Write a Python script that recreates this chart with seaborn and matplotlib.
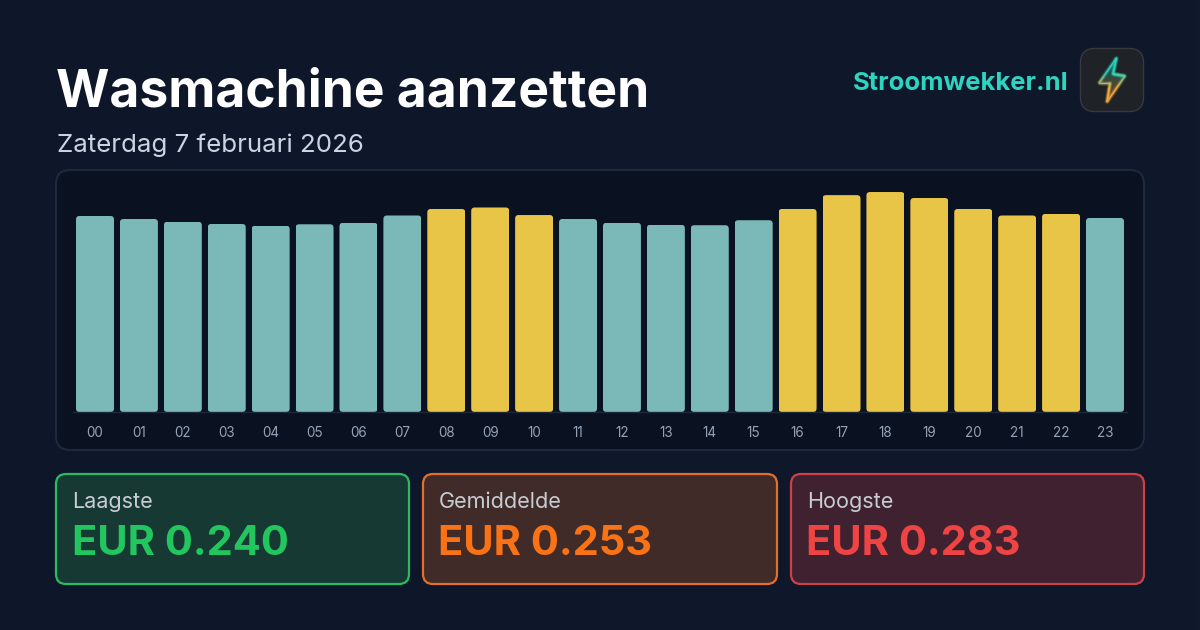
import matplotlib
matplotlib.use("Agg")
import matplotlib.pyplot as plt
import numpy as np
import pandas as pd
import seaborn as sns
from matplotlib.collections import LineCollection
from matplotlib.patches import FancyBboxPatch, Polygon
from matplotlib.colors import LinearSegmentedColormap
from matplotlib.transforms import IdentityTransform

# data
uren = ["00", "01", "02", "03", "04", "05", "06", "07", "08", "09", "10", "11",
        "12", "13", "14", "15", "16", "17", "18", "19", "20", "21", "22", "23"]
prijzen = [0.2522, 0.2483, 0.2447, 0.2419, 0.2397, 0.2415, 0.2434, 0.2528,
           0.2612, 0.2631, 0.2534, 0.2483, 0.2434, 0.2409, 0.2403, 0.2467,
           0.2612, 0.2790, 0.2830, 0.2753, 0.2612, 0.2528, 0.2550, 0.2496]
niveau = ["laag", "laag", "laag", "laag", "laag", "laag", "laag", "laag",
          "hoog", "hoog", "hoog", "laag", "laag", "laag", "laag", "laag",
          "hoog", "hoog", "hoog", "hoog", "hoog", "hoog", "hoog", "laag"]
kaart_labels = ["Laagste", "Gemiddelde", "Hoogste"]
kaart_waarden = ["EUR 0.240", "EUR 0.253", "EUR 0.283"]

sns.set_theme(style="white")
plt.rcParams["font.family"] = ["Inter", "DejaVu Sans"]

df = pd.DataFrame({"uur": uren, "prijs": prijzen, "niveau": niveau})

fig = plt.figure(figsize=(12, 6.3), dpi=100, facecolor="#0f172a")


def px(size):
    return size * 0.72


# background layer in pixel coordinates
bg = fig.add_axes([0, 0, 1, 1])
bg.axis("off")
verloop = np.linspace(0, 1, 256).reshape(1, -1)
bg.imshow(verloop, extent=(0, 1200, 630, 0), aspect="auto", zorder=0,
          cmap=LinearSegmentedColormap.from_list("bg", ["#0e172a", "#10182a"]))


def kader(x0, y0, x1, y1, r, fill, edge, lw):
    p = FancyBboxPatch((x0 + r, y0 + r), x1 - x0 - 2 * r, y1 - y0 - 2 * r,
                       boxstyle=f"round,pad={r},rounding_size={r}",
                       facecolor=fill, edgecolor=edge, linewidth=lw, zorder=1)
    bg.add_patch(p)
    return p


# header
bg.text(56, 93, "Wasmachine aanzetten", color="white", fontsize=px(51.5),
        fontweight="bold", va="center", ha="left")
bg.text(57, 145, "Zaterdag 7 februari 2026", color="#cbd5e1", fontsize=px(25.9),
        va="center", ha="left")
bg.text(1068, 83, "Stroomwekker.nl", color="#2dd4bf", fontsize=px(25.6),
        fontweight="bold", va="center", ha="right")

# logo
kader(1080.5, 48.5, 1143.5, 111.5, 14, "#1f2227", "#363a40", 1)
bliksem = [(1116.5, 58), (1099, 83), (1110, 83), (1107, 102), (1125, 76), (1113, 74)]
blik_cmap = LinearSegmentedColormap.from_list(
    "blik", ["#2dd4bf", "#2dd4bf", "#f5b342", "#f5a93a"])
verticaal = np.linspace(0, 1, 64).reshape(-1, 1)
blik_img = bg.imshow(verticaal, extent=(1096, 1128, 104, 56), aspect="auto", zorder=2,
                     cmap=blik_cmap, alpha=0.25)
blik_img.set_clip_path(Polygon(bliksem, closed=True, transform=bg.transData))
hoeken = np.array(bliksem + bliksem[:1])
t = np.arange(len(hoeken))
tt = np.linspace(0, len(hoeken) - 1, 240)
lijn = np.column_stack([np.interp(tt, t, hoeken[:, 0]), np.interp(tt, t, hoeken[:, 1])])
stukken = np.stack([lijn[:-1], lijn[1:]], axis=1)
lijn_kleur = blik_cmap((stukken[:, 0, 1] - 58) / 44)
for lw, a in [(5, 0.05), (3, 0.12), (1, 0.9)]:
    kleuren = lijn_kleur.copy()
    kleuren[:, 3] = a
    bg.add_collection(LineCollection(stukken, colors=kleuren, linewidths=lw * 0.72,
                                     capstyle="round", zorder=3))
bg.set_xlim(0, 1200)
bg.set_ylim(630, 0)

# chart panel
kader(56, 170, 1144, 450, 14, "#0a1120", "#1e293b", 1.5)

# stat cards
kaarten = [(56, 409, "#2abb62", "#22c55e", "#163a33"),
           (423, 777, "#e0702a", "#f97316", "#402b28"),
           (791, 1144, "#cf3f46", "#ef4444", "#402130")]
for (x0, x1, rand, kleur, vul), label, waarde in zip(kaarten, kaart_labels, kaart_waarden):
    kader(x0, 474, x1, 584, 10, vul, rand, 1.6)
    bg.text(x0 + 16, 502, label, color="#c8ccd4", fontsize=px(21.6), va="center", ha="left")
    bg.text(x0 + 15.5, 544, waarde, color=kleur, fontsize=px(41.6), fontweight="bold",
            va="center", ha="left")

# bars
links, breed = 73.04, 1053.9
onder, hoog = 412, 240
ax = fig.add_axes([links / 1200, (630 - onder) / 630, breed / 1200, hoog / 630])
ax.patch.set_alpha(0)
sns.barplot(data=df, x="uur", y="prijs", hue="niveau", dodge=False, legend=False,
            palette={"laag": "#7bb9b9", "hoog": "#e8c547"}, width=0.865, linewidth=0,
            saturation=1, ax=ax)
ax.set_ylim(0, hoog / 777.3)
ax.set_xlim(-0.5, 23.5)
ax.set_xlabel("")
ax.set_ylabel("")
ax.set_yticks([])
ax.tick_params(axis="x", length=0, pad=10, labelsize=px(13.5), labelcolor="#94a3b8")
for kant in ["top", "left", "right"]:
    ax.spines[kant].set_visible(False)
ax.spines["bottom"].set_color("#1e293b")
ax.spines["bottom"].set_linewidth(1)

# rounded corners on the bars
fig.canvas.draw()
for bar in ax.patches:
    if bar.get_height() == 0:
        continue
    (x0, y0), (x1, y1) = ax.transData.transform(bar.get_bbox().get_points())
    r = 3.5
    rond = FancyBboxPatch((x0 + r, y0 + r), x1 - x0 - 2 * r, y1 - y0 - 2 * r,
                          boxstyle=f"round,pad={r},rounding_size={r}",
                          transform=IdentityTransform())
    bar.set_clip_path(rond)

fig.savefig("out.png", dpi=100, facecolor=fig.get_facecolor())
